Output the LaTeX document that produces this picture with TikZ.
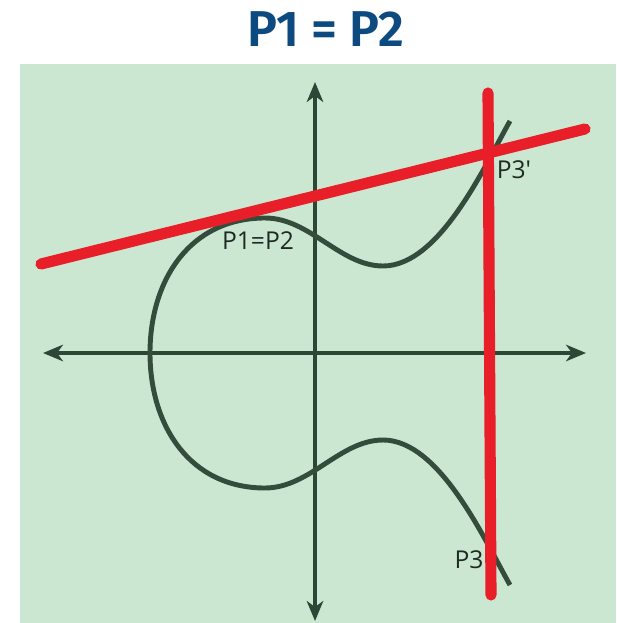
\documentclass[tikz,border=0pt]{standalone}
\usepackage{fontspec}
\newfontfamily\labelfont{Open Sans}
\newfontfamily\titlefont{Fira Sans}[BoldFont={Fira Sans SemiBold}]
\usetikzlibrary{arrows.meta}

\definecolor{panelgreen}{RGB}{204,231,209}
\definecolor{axisdark}{RGB}{46,70,54}
\definecolor{curvedark}{RGB}{52,76,60}
\definecolor{linered}{RGB}{232,30,40}
\definecolor{titleblue}{RGB}{12,74,128}
\definecolor{labeldark}{RGB}{30,42,34}

\begin{document}
\begin{tikzpicture}[x=0.03cm, y=-0.03cm,
  axis/.style={draw=axisdark, line width=3.4pt,
               {Stealth[length=17pt,width=14pt,inset=5pt]}-{Stealth[length=17pt,width=14pt,inset=5pt]}},
  curve/.style={draw=curvedark, line width=4.2pt},
  redline/.style={draw=linered, line width=9.5pt, line cap=round},
  ptlabel/.style={text=labeldark, font=\labelfont\fontsize{21}{23}\selectfont, inner sep=0pt}]
  \useasboundingbox (0,0) rectangle (616,623);
  \fill[panelgreen] (20,64) rectangle (616,623);

  % axes
  \coordinate (xl) at (43,353);
  \coordinate (xr) at (586,353);
  \coordinate (yt) at (315,82);
  \coordinate (yb) at (315,621);
  \draw[axis] (xl) -- (xr);
  \draw[axis] (yb) -- (yt);

  % curve
  \draw[curve] (510,121) .. controls (485,165) and (440,266) .. (383,266)
                         .. controls (340,266) and (310,218) .. (265,218)
                         .. controls (190,218) and (150,280) .. (150,353)
                         .. controls (150,426) and (190,488) .. (265,488)
                         .. controls (310,488) and (340,440) .. (383,440)
                         .. controls (440,440) and (485,541) .. (510,585);

  % tangent and vertical line
  \coordinate (ta) at (41,264);
  \coordinate (tb) at (585,129);
  \coordinate (va) at (488,93);
  \coordinate (vb) at (491,595);
  \draw[redline] (ta) -- (tb);
  \draw[redline] (va) -- (vb);

  % labels
  \node (title) at (326,29) [text=titleblue, inner sep=0pt,
        font=\titlefont\bfseries\fontsize{43}{45}\selectfont]
        {P1 = P2};
  \node (p12) at (258,241) [ptlabel] {P1=P2};
  \node (p3d) at (514,170) [ptlabel] {P3'};
  \node (p3)  at (469,560) [ptlabel] {P3};
\end{tikzpicture}
\end{document}
